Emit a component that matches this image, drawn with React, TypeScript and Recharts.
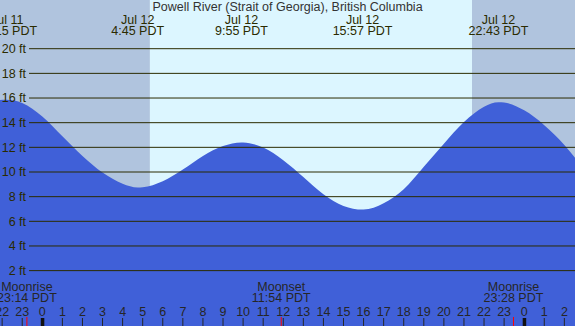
import {
  Area,
  ComposedChart,
  ReferenceArea,
  ReferenceLine,
  XAxis,
  YAxis,
} from "recharts";

// hours since Jul 12 00:00 PDT, tide height in ft
const hours = [
  -2.107, -1.78, -1, 0, 1, 2, 3, 4, 4.75, 5, 6, 7, 8, 9, 9.92, 10, 11, 12, 13, 14,
  15, 15.95, 16, 17, 18, 19, 20, 21, 22, 22.72, 23, 24, 25, 26, 26.53,
];
const heights = [
  15.84, 15.86, 15.6, 14.5, 12.9, 11.3, 9.95, 9.05, 8.75, 8.77, 9.26, 10.2, 11.3, 12.1,
  12.4, 12.4, 11.98, 10.96, 9.6, 8.2, 7.25, 6.95, 6.95, 7.46, 8.6, 10.43, 12.3, 14.05,
  15.3, 15.65, 15.63, 15.0, 13.8, 12.2, 11.15,
];

const extremeTimes = [-1.75, 4.75, 9.917, 15.95, 22.717];
const extremeDates = ["Jul 11", "Jul 12", "Jul 12", "Jul 12", "Jul 12"];
const extremeLabels = ["22:15 PDT", "4:45 PDT", "9:55 PDT", "15:57 PDT", "22:43 PDT"];

const moonTimes = [-0.767, 11.9, 23.467];
const moonEvents = ["Moonrise", "Moonset", "Moonrise"];
const moonLabels = ["23:14 PDT", "11:54 PDT", "23:28 PDT"];

const sunrise = 5.36;
const sunset = 21.4;

const gridLevels = [2, 4, 6, 8, 10, 12, 14, 16, 18, 20];
const hourTicks = Array.from({ length: 29 }, (_, i) => i - 2);

const title = "Powell River (Strait of Georgia), British Columbia";

const T_MIN = -2.107;
const T_MAX = 26.53;
const H_MIN = -2.49;
const H_MAX = 23.95;
const GRID_START = -0.66;
const TICK_TOP = -1.76;

const W = 575;
const H = 326;
const FONT = "'Liberation Sans', Arial, sans-serif";
const FS = 12.5;
const OLIVE = "#2b2b00";
const DARK = "#262626";

const data = hours.map((t, i) => ({ t, h: heights[i] }));

function TopLabel({ viewBox, date, time }: any) {
  const x = viewBox?.x ?? 0;
  return (
    <g fontFamily={FONT} fontSize={FS} fill={OLIVE} textAnchor="middle">
      <text x={x} y={24}>{date}</text>
      <text x={x} y={35}>{time}</text>
    </g>
  );
}

function MoonLabel({ viewBox, event, time }: any) {
  const x = viewBox?.x ?? 0;
  return (
    <g fontFamily={FONT} fontSize={FS} fill={DARK} textAnchor="middle">
      <text x={x} y={291}>{event}</text>
      <text x={x} y={302}>{time}</text>
    </g>
  );
}

function HourTick({ x, payload }: any) {
  const v = payload.value;
  const hr = ((v % 24) + 24) % 24;
  return (
    <g>
      {hr === 0 ? (
        <rect x={x - 1.5} y={318} width={3.5} height={8} fill="#111" />
      ) : (
        <line x1={x} x2={x} y1={318} y2={326} stroke={DARK} strokeWidth={1} />
      )}
      <text
        x={x}
        y={315.5}
        textAnchor="middle"
        fontFamily={FONT}
        fontSize={FS}
        fill={DARK}
      >
        {hr}
      </text>
    </g>
  );
}

export default function App() {
  return (
    <div style={{ position: "absolute", left: 0, top: 0, width: W, height: H }}>
      <ComposedChart
        width={W}
        height={H}
        data={data}
        margin={{ top: 0, right: 0, bottom: 0, left: 0 }}
      >
        <XAxis
          dataKey="t"
          type="number"
          domain={[T_MIN, T_MAX]}
          ticks={hourTicks}
          allowDataOverflow
          mirror
          axisLine={false}
          tickLine={false}
          tick={<HourTick />}
          interval={0}
        />
        <YAxis type="number" domain={[H_MIN, H_MAX]} hide allowDataOverflow />
        <ReferenceArea x1={T_MIN} x2={sunrise} fill="#b0c4de" fillOpacity={1} stroke="none" />
        <ReferenceArea x1={sunrise} x2={sunset} fill="#dcf6ff" fillOpacity={1} stroke="none" />
        <ReferenceArea x1={sunset} x2={T_MAX} fill="#b0c4de" fillOpacity={1} stroke="none" />
        <Area
          type="monotone"
          dataKey="h"
          baseValue="dataMin"
          stroke="none"
          fill="#4060d8"
          fillOpacity={1}
          isAnimationActive={false}
          dot={false}
          activeDot={false}
        />
        {gridLevels.map((v) => (
          <ReferenceLine
            key={v}
            segment={[
              { x: GRID_START, y: v },
              { x: T_MAX, y: v },
            ]}
            stroke={OLIVE}
            strokeWidth={1}
            label={{
              value: `${v} ft`,
              position: "left",
              offset: 3,
              fill: OLIVE,
              fontSize: FS,
              fontFamily: FONT,
            }}
          />
        ))}
        {moonTimes.map((t, i) => (
          <ReferenceLine
            key={`m${i}`}
            segment={[
              { x: t, y: TICK_TOP },
              { x: t, y: H_MIN },
            ]}
            stroke="#ff0000"
            strokeWidth={1}
            label={<MoonLabel event={moonEvents[i]} time={moonLabels[i]} />}
          />
        ))}
        {extremeTimes.map((t, i) => (
          <ReferenceLine
            key={`e${i}`}
            x={t}
            stroke="none"
            label={<TopLabel date={extremeDates[i]} time={extremeLabels[i]} />}
          />
        ))}
      </ComposedChart>
      <svg
        width={W}
        height={16}
        style={{ position: "absolute", left: 0, top: 0, pointerEvents: "none" }}
      >
        <text
          x={W / 2}
          y={11}
          textAnchor="middle"
          fontFamily={FONT}
          fontSize={FS}
          fill="#333"
        >
          {title}
        </text>
      </svg>
    </div>
  );
}
